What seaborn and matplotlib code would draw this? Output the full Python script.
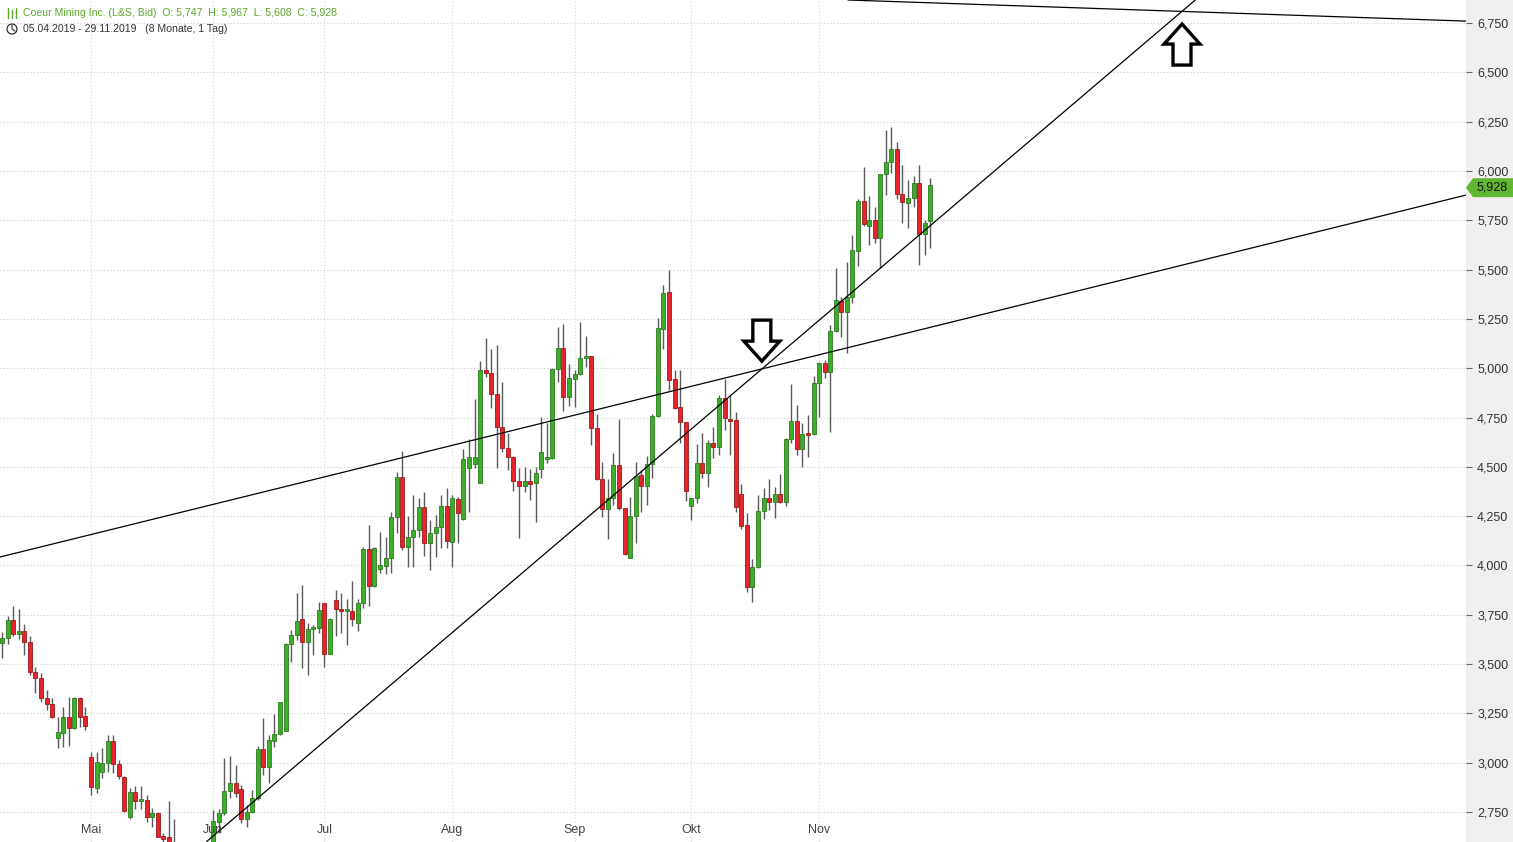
import matplotlib
matplotlib.use("Agg")
import matplotlib.pyplot as plt
import matplotlib.transforms as mtransforms
from matplotlib.patches import Polygon, Rectangle, Ellipse
from matplotlib.lines import Line2D
import numpy as np
import pandas as pd
import seaborn as sns

# daily candles, 05.04.2019 - 29.11.2019 (L&S, Bid)
opens = [3.608, 3.631, 3.724, 3.651, 3.667, 3.610, 3.458, 3.428, 3.327, 3.296,
         3.124, 3.152, 3.230, 3.174, 3.327, 3.237, 3.027, 2.873, 2.951, 2.997,
         3.110, 2.994, 2.929, 2.726, 2.850, 2.806, 2.811, 2.723, 2.743, 2.628,
         2.622, 2.580, 2.550, 2.530, 2.490, 2.520, 2.500, 2.550, 2.570, 2.701,
         2.743, 2.858, 2.896, 2.865, 2.713, 2.749, 2.820, 3.068, 2.980, 3.112,
         3.144, 3.162, 3.602, 3.647, 3.727, 3.613, 3.676, 3.681, 3.808, 3.550,
         3.825, 3.779, 3.770, 3.769, 3.710, 3.808, 4.083, 3.897, 3.981, 3.997,
         4.036, 4.244, 4.447, 4.092, 4.143, 4.180, 4.295, 4.112, 4.166, 4.193,
         4.301, 4.121, 4.335, 4.235, 4.492, 4.514, 4.416, 4.991, 4.974, 4.869,
         4.700, 4.594, 4.548, 4.430, 4.404, 4.427, 4.416, 4.487, 4.540, 4.543,
         4.994, 5.101, 4.855, 4.944, 4.969, 5.050, 5.062, 4.695, 4.437, 4.285,
         4.340, 4.509, 4.290, 4.036, 4.251, 4.458, 4.404, 4.514, 4.759, 5.200,
         5.386, 4.945, 4.802, 4.726, 4.301, 4.340, 4.518, 4.470, 4.619, 4.602,
         4.847, 4.743, 4.739, 4.362, 4.205, 3.892, 3.991, 4.278, 4.340, 4.323,
         4.361, 4.323, 4.640, 4.734, 4.589, 4.667, 4.665, 4.924, 5.025, 4.982,
         5.189, 5.342, 5.286, 5.359, 5.596, 5.848, 5.721, 5.751, 5.659, 5.985,
         6.044, 6.110, 5.883, 5.839, 5.861, 5.937, 5.679, 5.747]
highs = [3.664, 3.744, 3.795, 3.779, 3.702, 3.644, 3.484, 3.453, 3.369, 3.327,
         3.233, 3.281, 3.332, 3.332, 3.332, 3.284, 3.056, 3.056, 3.076, 3.140,
         3.140, 3.014, 2.933, 2.870, 2.883, 2.883, 2.836, 2.769, 2.752, 2.642,
         2.808, 2.713, 2.580, 2.570, 2.550, 2.560, 2.570, 2.590, 2.760, 2.764,
         3.022, 3.034, 2.988, 2.887, 2.786, 2.862, 3.085, 3.225, 3.140, 3.245,
         3.306, 3.605, 3.673, 3.859, 3.901, 3.710, 3.698, 3.816, 3.808, 3.732,
         3.876, 3.859, 3.828, 3.921, 3.828, 4.092, 4.205, 4.092, 4.171, 4.146,
         4.272, 4.475, 4.580, 4.251, 4.357, 4.340, 4.374, 4.230, 4.256, 4.357,
         4.394, 4.357, 4.348, 4.589, 4.640, 4.842, 5.038, 5.152, 5.096, 5.118,
         4.932, 4.670, 4.555, 4.492, 4.498, 4.487, 4.501, 4.751, 4.721, 5.000,
         5.211, 5.224, 5.021, 4.991, 5.236, 5.163, 5.062, 4.768, 4.526, 4.437,
         4.572, 4.741, 4.290, 4.349, 4.526, 4.484, 4.555, 4.768, 5.253, 5.420,
         5.500, 4.991, 4.990, 4.729, 4.340, 4.616, 4.670, 4.636, 4.700, 4.864,
         4.944, 4.864, 4.780, 4.411, 4.264, 4.033, 4.357, 4.391, 4.437, 4.396,
         4.464, 4.645, 4.920, 4.813, 4.721, 4.763, 4.961, 5.033, 5.042, 5.219,
         5.506, 5.362, 5.540, 5.675, 5.856, 6.018, 5.873, 5.816, 5.985, 6.208,
         6.224, 6.148, 6.030, 5.954, 5.974, 6.030, 5.751, 5.967]
lows = [3.529, 3.602, 3.644, 3.627, 3.546, 3.445, 3.355, 3.309, 3.267, 3.225,
        3.073, 3.081, 3.086, 3.171, 3.183, 3.166, 2.836, 2.848, 2.921, 2.951,
        2.946, 2.916, 2.752, 2.713, 2.764, 2.764, 2.701, 2.676, 2.622, 2.600,
        2.540, 2.520, 2.500, 2.470, 2.460, 2.480, 2.470, 2.520, 2.550, 2.642,
        2.735, 2.820, 2.828, 2.693, 2.672, 2.743, 2.811, 2.938, 2.896, 3.081,
        3.140, 3.162, 3.512, 3.622, 3.479, 3.445, 3.546, 3.656, 3.487, 3.550,
        3.642, 3.656, 3.597, 3.695, 3.669, 3.783, 3.796, 3.892, 3.963, 3.955,
        3.960, 4.166, 4.078, 3.994, 3.994, 4.146, 4.048, 3.977, 4.045, 4.087,
        4.087, 3.994, 4.112, 4.230, 4.272, 4.492, 4.416, 4.954, 4.800, 4.492,
        4.577, 4.484, 4.379, 4.138, 4.374, 4.332, 4.222, 4.442, 4.518, 4.538,
        4.932, 4.784, 4.810, 4.805, 4.965, 5.004, 4.611, 4.433, 4.247, 4.133,
        4.307, 4.281, 4.053, 4.036, 4.112, 4.269, 4.307, 4.442, 4.754, 5.100,
        4.890, 4.792, 4.622, 4.328, 4.230, 4.315, 4.442, 4.399, 4.543, 4.560,
        4.687, 4.560, 4.272, 4.184, 3.867, 3.813, 3.986, 4.234, 4.281, 4.239,
        4.315, 4.301, 4.619, 4.560, 4.501, 4.548, 4.662, 4.751, 4.949, 4.678,
        5.182, 5.160, 5.076, 5.329, 5.520, 5.721, 5.625, 5.633, 5.507, 5.878,
        5.988, 5.858, 5.738, 5.709, 5.816, 5.523, 5.574, 5.608]
closes = [3.631, 3.724, 3.651, 3.667, 3.610, 3.458, 3.428, 3.327, 3.296, 3.233,
          3.154, 3.230, 3.174, 3.327, 3.233, 3.187, 2.878, 3.005, 2.997, 3.110,
          2.992, 2.933, 2.757, 2.850, 2.806, 2.810, 2.726, 2.743, 2.625, 2.615,
          2.570, 2.550, 2.530, 2.490, 2.520, 2.500, 2.550, 2.570, 2.704, 2.743,
          2.858, 2.896, 2.848, 2.713, 2.749, 2.820, 3.068, 2.980, 3.115, 3.144,
          3.306, 3.602, 3.647, 3.718, 3.613, 3.676, 3.680, 3.774, 3.551, 3.729,
          3.778, 3.771, 3.774, 3.727, 3.808, 4.083, 3.897, 4.087, 4.002, 4.039,
          4.244, 4.447, 4.092, 4.143, 4.180, 4.295, 4.112, 4.166, 4.193, 4.301,
          4.124, 4.340, 4.267, 4.538, 4.548, 4.548, 4.991, 4.974, 4.868, 4.700,
          4.594, 4.548, 4.430, 4.404, 4.427, 4.415, 4.467, 4.577, 4.545, 4.994,
          5.101, 4.855, 4.949, 4.969, 5.050, 5.062, 4.695, 4.437, 4.285, 4.340,
          4.509, 4.290, 4.058, 4.251, 4.453, 4.404, 4.514, 4.759, 5.202, 5.380,
          4.940, 4.800, 4.726, 4.379, 4.340, 4.518, 4.470, 4.619, 4.602, 4.847,
          4.746, 4.734, 4.298, 4.202, 3.892, 3.991, 4.278, 4.340, 4.323, 4.361,
          4.323, 4.640, 4.734, 4.589, 4.665, 4.662, 4.924, 5.025, 4.982, 5.189,
          5.346, 5.286, 5.359, 5.599, 5.848, 5.731, 5.751, 5.659, 5.985, 6.044,
          6.110, 5.883, 5.841, 5.861, 5.937, 5.679, 5.735, 5.928]

month_labels = ["Mai", "Jun", "Jul", "Aug", "Sep", "Okt", "Nov"]
month_pos = [16, 38, 58, 81, 103, 124, 147]
price_ticks = [2.75, 3.0, 3.25, 3.5, 3.75, 4.0, 4.25, 4.5, 4.75, 5.0,
               5.25, 5.5, 5.75, 6.0, 6.25, 6.5, 6.75]
last_close = 5.928

# drawn trend lines: (x0, y0, x1, y1) in candle index / price
trend_lines = [
    (-0.38, 4.043, 263.4, 5.878),
    (36.8, 2.600, 214.7, 6.867),
    (152.2, 6.867, 263.4, 6.760),
]
# hollow arrows: tip position (candle index, price) and direction
arrows = [(136.7, 5.036, "down"), (212.3, 6.745, "up")]

df = pd.DataFrame({"open": opens, "high": highs, "low": lows, "close": closes})
df["idx"] = np.arange(len(df))
df["up"] = df["close"] >= df["open"]

sns.set_style("white")
plt.rcParams["font.family"] = ["Liberation Sans", "DejaVu Sans"]

W, H = 1513, 842
PLOT_W = 1466
fig = plt.figure(figsize=(W / 100, H / 100), dpi=100)
ax = fig.add_axes([0, 0, PLOT_W / W, 1])
ax.set_xlim(-0.38, 263.4)
ax.set_ylim(2.598, 6.867)
for s in ax.spines.values():
    s.set_visible(False)

# right price strip (behind the axes so the tick labels stay visible)
fig.patches.append(Rectangle((PLOT_W / W, 0), 1 - PLOT_W / W, 1, transform=fig.transFigure,
                             facecolor="#f2eff2", edgecolor="none", zorder=-1))

# grid
for p in price_ticks:
    ax.axhline(p, color="#cdcdcd", lw=0.8, ls=(0, (1, 2)), zorder=0)
for m in month_pos:
    ax.axvline(m, color="#e0d4e0", lw=0.8, ls=(0, (1, 2)), zorder=0)

# candles
green, green_e = "#3cae2a", "#2c7a1e"
red, red_e = "#e4252b", "#9a1a1a"
ax.vlines(df["idx"], df["low"], df["high"], color="#5a5a5a", lw=1.0, zorder=2)
body = (df["close"] - df["open"]).abs().clip(lower=0.01)
bottom = df[["open", "close"]].min(axis=1)
ax.bar(df["idx"], body, bottom=bottom, width=0.72,
       color=np.where(df["up"], green, red),
       edgecolor=np.where(df["up"], green_e, red_e), linewidth=0.6, zorder=3)

# trend lines
for x0, y0, x1, y1 in trend_lines:
    sns.lineplot(x=[x0, x1], y=[y0, y1], ax=ax, color="black", lw=0.9, zorder=4)

# hollow block arrows (shape in pixels, anchored at the tip)
def arrow_shape(direction):
    pts = np.array([[0, 0], [-18, 20], [-9, 20], [-9, 41], [9, 41], [9, 20], [18, 20]], float)
    if direction == "up":
        pts[:, 1] *= -1
    return pts / 100.0

for tx, ty, d in arrows:
    tr = fig.dpi_scale_trans + mtransforms.ScaledTranslation(tx, ty, ax.transData)
    ax.add_patch(Polygon(arrow_shape(d), closed=True, transform=tr, facecolor="white",
                         edgecolor="black", lw=2.4, joinstyle="miter", zorder=5))

# y axis on right
ax.yaxis.tick_right()
ax.set_yticks(price_ticks)
ax.set_yticklabels([f"{p:.3f}".replace(".", ",") for p in price_ticks])
ax.tick_params(axis="y", direction="out", length=4, width=0.8, color="#666666",
               pad=4, labelsize=9, labelcolor="#333333")

# x axis: small ticks at the bottom, labels inside the plot
ax.set_xticks(month_pos)
ax.set_xticklabels([])
ax.tick_params(axis="x", direction="in", length=4, width=0.8, color="#666666")
tr_x = mtransforms.blended_transform_factory(ax.transData, ax.transAxes)
for m, lab in zip(month_pos, month_labels):
    ax.text(m, 12 / H, lab, transform=tr_x, ha="center", va="center",
            fontsize=9, color="#444444", zorder=6)
ax.set_xlabel("")
ax.set_ylabel("")

# last price tag (sits just below the level, as in the source)
y_last = ax.transData.transform((0, last_close))[1] - 2.5
tag = np.array([[PLOT_W, y_last], [PLOT_W + 7, y_last + 9.5], [W, y_last + 9.5],
                [W, y_last - 9.5], [PLOT_W + 7, y_last - 9.5]])
fig.patches.append(Polygon(tag / np.array([W, H]), closed=True, transform=fig.transFigure,
                           facecolor="#62b730", edgecolor="none", zorder=5))
fig.text((PLOT_W + 11) / W, y_last / H, f"{last_close:.3f}".replace(".", ","),
         ha="left", va="center", fontsize=9, color="#111111", zorder=6)

# header
fig.text(23 / W, 1 - 13 / H,
         "Coeur Mining Inc. (L&S, Bid)  O: 5,747  H: 5,967  L: 5,608  C: 5,928",
         ha="left", va="center", fontsize=7.6, color="#5aa82a")
fig.text(23 / W, 1 - 29 / H, "05.04.2019 - 29.11.2019   (8 Monate, 1 Tag)",
         ha="left", va="center", fontsize=7.6, color="#333333")
for dx, y0, y1 in [(8, 8, 18), (12, 10, 18), (16, 8, 18)]:
    fig.add_artist(Line2D([dx / W, dx / W], [1 - y0 / H, 1 - y1 / H],
                          transform=fig.transFigure, color="#5aa82a", lw=1.0))
fig.add_artist(Ellipse((12 / W, 1 - 29 / H), 10 / W, 10 / H, transform=fig.transFigure,
                       fill=False, edgecolor="#333333", lw=0.9))
fig.add_artist(Line2D([12 / W, 12 / W, 15 / W], [1 - 25 / H, 1 - 29 / H, 1 - 31 / H],
                      transform=fig.transFigure, color="#333333", lw=0.8))

fig.savefig("out.png", dpi=100)
